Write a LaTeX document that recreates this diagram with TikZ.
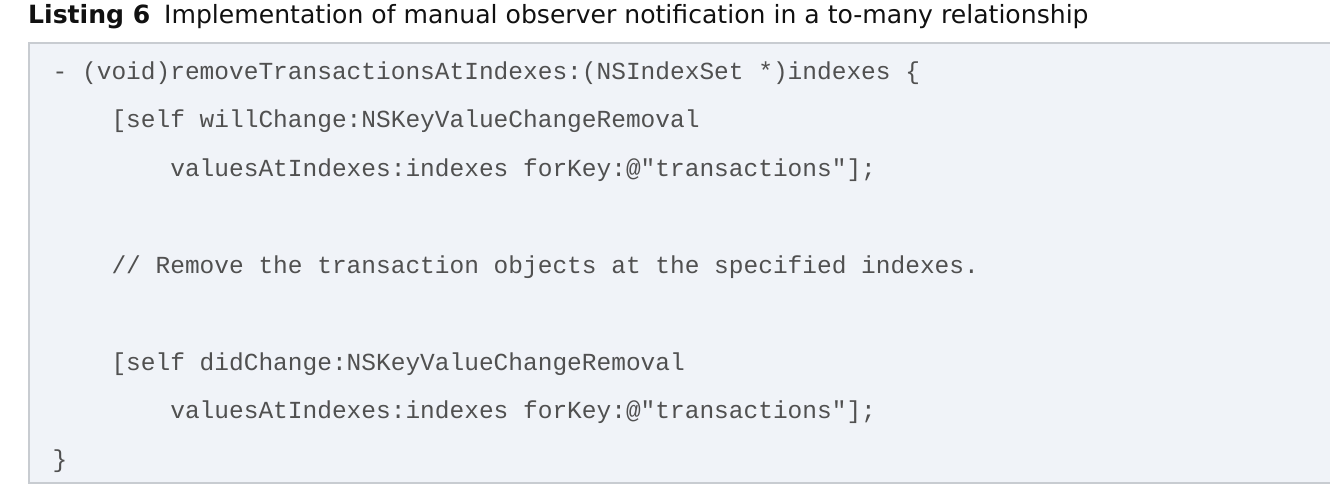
\documentclass[tikz,border=0pt]{standalone}
\usepackage{fontspec}
\setmainfont{DejaVu Sans}
\newfontfamily\codefont{Liberation Mono}
\definecolor{boxfill}{RGB}{240,243,248}
\definecolor{boxline}{RGB}{200,204,209}
\definecolor{codegray}{RGB}{80,80,80}
\definecolor{titleblack}{RGB}{17,17,17}
\begin{document}
\begin{tikzpicture}[x=1pt,y=-1pt,
  codeline/.style={anchor=base west,inner sep=0pt,font=\codefont\fontsize{24.5}{24.5}\selectfont,text=codegray},
  titletext/.style={anchor=base west,inner sep=0pt,font=\fontsize{25.1}{25.1}\selectfont,text=titleblack}]
\useasboundingbox (0,0) rectangle (1330,500);
\fill[boxfill] (28,42) rectangle (1331,484);
\draw[boxline,line width=2pt] (1331,43) -- (29,43) -- (29,483) -- (1331,483);
\node[titletext] (title) at (28,24) {\textbf{Listing 6}\hspace{0.55em}Implementation of manual observer notification in a to-many relationship};
\node[codeline] (l1) at (52.5,79.5) {- (void)removeTransactionsAtIndexes:(NSIndexSet *)indexes \{};
\node[codeline] (l2) at (111.3,128) {[self willChange:NSKeyValueChangeRemoval};
\node[codeline] (l3) at (170.1,176.5) {valuesAtIndexes:indexes forKey:@"transactions"];};
\node[codeline] (l5) at (111.3,273.5) {// Remove the transaction objects at the specified indexes.};
\node[codeline] (l7) at (111.3,370) {[self didChange:NSKeyValueChangeRemoval};
\node[codeline] (l8) at (170.1,418.5) {valuesAtIndexes:indexes forKey:@"transactions"];};
\node[codeline] (l9) at (52.5,467) {\}};
\end{tikzpicture}
\end{document}
